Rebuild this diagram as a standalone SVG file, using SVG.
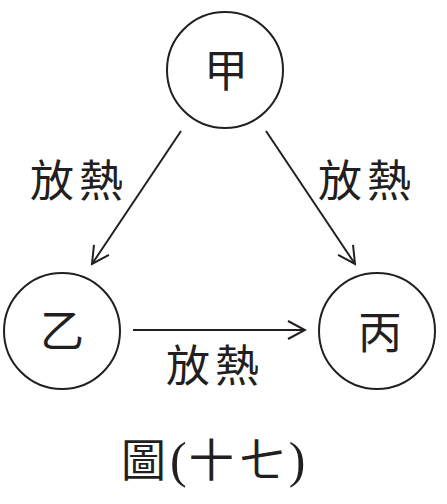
<svg xmlns="http://www.w3.org/2000/svg" width="447" height="504" viewBox="0 0 447 504">
<style>
.node{fill:#fff;stroke:#231f20;stroke-width:2}
.lbl{font-family:"Noto Sans CJK TC","Noto Sans CJK SC",sans-serif;font-size:44px;fill:#231f20;text-anchor:middle}
.edge{stroke:#231f20;stroke-width:2;fill:none}
</style>
<defs>
<marker id="arr" viewBox="0 0 20 20" refX="18" refY="10" markerWidth="20" markerHeight="20" markerUnits="userSpaceOnUse" orient="auto">
<path d="M1,1 L18,10 L1,19" fill="none" stroke="#231f20" stroke-width="2"/>
</marker>
</defs>
<rect width="447" height="504" fill="#fff"/>
<g id="connectors">
<line class="edge" x1="181" y1="131" x2="92" y2="264" marker-end="url(#arr)"/>
<line class="edge" x1="266" y1="131" x2="355" y2="264" marker-end="url(#arr)"/>
<line class="edge" x1="133" y1="330" x2="305" y2="330" marker-end="url(#arr)"/>
<text class="lbl" x="79" y="197" letter-spacing="5">放熱</text>
<text class="lbl" x="367" y="197" letter-spacing="5">放熱</text>
<text class="lbl" x="215" y="382" letter-spacing="5">放熱</text>
</g>
<g id="node-jia">
<circle class="node" cx="225" cy="70" r="58"/>
<text class="lbl" x="226" y="87">甲</text>
</g>
<g id="node-yi">
<circle class="node" cx="62" cy="331" r="58"/>
<text class="lbl" x="62" y="347">乙</text>
</g>
<g id="node-bing">
<circle class="node" cx="377" cy="331" r="58"/>
<text class="lbl" x="380" y="349">丙</text>
</g>
<text x="121" y="477" font-family="'Noto Sans CJK TC','Noto Sans CJK SC',sans-serif" font-size="45" fill="#231f20">圖<tspan dx="4" font-family="'Liberation Serif',serif" font-size="50">(</tspan><tspan dx="2">十</tspan><tspan dx="6">七</tspan><tspan dx="4" font-family="'Liberation Serif',serif" font-size="50">)</tspan></text>
</svg>
